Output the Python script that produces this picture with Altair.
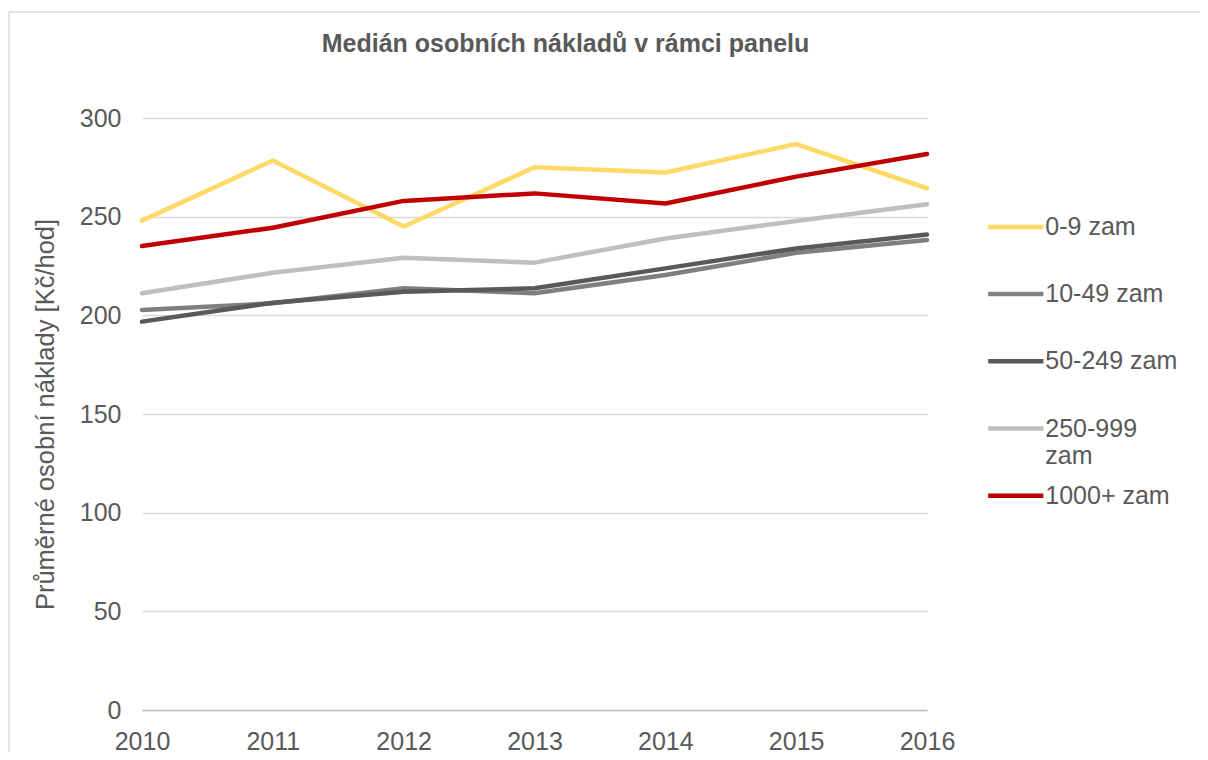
import altair as alt
import pandas as pd

years = [2010, 2011, 2012, 2013, 2014, 2015, 2016]
series = ["0-9 zam", "10-49 zam", "50-249 zam", "250-999 zam", "1000+ zam"]
v_0_9 = [248.0, 278.5, 245.0, 275.0, 272.4, 286.8, 264.4]
v_10_49 = [202.7, 206.1, 213.7, 211.2, 220.4, 231.7, 238.2]
v_50_249 = [196.8, 206.4, 212.0, 213.7, 223.8, 233.9, 241.0]
v_250_999 = [211.2, 221.6, 229.2, 226.7, 238.9, 247.8, 256.3]
v_1000 = [235.1, 244.4, 258.0, 261.8, 256.7, 270.3, 281.8]
colors = ["#FFD966", "#7F7F7F", "#595959", "#BFBFBF", "#C00000"]

values = [v_0_9, v_10_49, v_50_249, v_250_999, v_1000]
rows = []
for s, vals in zip(series, values):
    for y, v in zip(years, vals):
        rows.append({"rok": y, "skupina": s, "hodnota": v})
df = pd.DataFrame(rows)

FONT = "Liberation Sans"
TXT = "#595959"

lines = alt.Chart(df).mark_line(strokeWidth=4.5, strokeJoin="round", strokeCap="round").encode(
    x=alt.X("rok:O", title=None, scale=alt.Scale(type="point", padding=0),
            axis=alt.Axis(labelAngle=0, labelFontSize=25, labelColor=TXT, labelFont=FONT,
                          labelPadding=19, ticks=False, domain=True, domainColor="#BFBFBF",
                          domainWidth=1.5, grid=False)),
    y=alt.Y("hodnota:Q", title="Průměrné osobní náklady [Kč/hod]",
            scale=alt.Scale(domain=[0, 300], nice=False),
            axis=alt.Axis(values=[0, 50, 100, 150, 200, 250, 300], labelFontSize=25,
                          labelColor=TXT, labelFont=FONT, labelPadding=21, ticks=False,
                          domain=False, gridColor="#D9D9D9", gridWidth=1.5,
                          titleFontSize=25.5, titleFont=FONT, titleColor=TXT,
                          titleFontWeight="normal", titleX=-97, titleY=296,
                          titleAngle=-90, titleAlign="center", titleBaseline="middle")),
    color=alt.Color("skupina:N", sort=series,
                    scale=alt.Scale(domain=series, range=colors),
                    legend=alt.Legend(title=None, orient="none", legendX=848.3, legendY=83.4,
                                      symbolType="M-1.2,0H1.2", symbolSize=2116,
                                      symbolStrokeWidth=4.5, labelFontSize=25,
                                      labelFont=FONT, labelColor=TXT, labelOffset=4,
                                      rowPadding=1.2, gridAlign="all",
                                      padding=0, labelLimit=300,
                                      labelExpr="datum.label == '250-999 zam' ? ['250-999', 'zam'] : datum.label")),
    order=alt.Order("skupina_idx:Q"),
).transform_calculate(
    skupina_idx="indexof(['0-9 zam','10-49 zam','50-249 zam','250-999 zam','1000+ zam'], datum.skupina)"
)

frame_df = pd.DataFrame({"a": [0]})
border_top = alt.Chart(frame_df).mark_rule(stroke="#D9D9D9", strokeWidth=1.5).encode(
    x=alt.value(-133), x2=alt.value(1200), y=alt.value(-106)
)
border_left = alt.Chart(frame_df).mark_rule(stroke="#D9D9D9", strokeWidth=1.5).encode(
    x=alt.value(-133), y=alt.value(-106), y2=alt.value(800)
)

chart = alt.layer(border_top, border_left, lines).properties(
    width=785, height=592,
    title=alt.TitleParams("Medián osobních nákladů v rámci panelu", fontSize=25,
                          font=FONT, fontWeight="bold", color=TXT, anchor="middle",
                          frame="group", dx=31, offset=-45.75),
    padding={"left": 134, "top": 110, "right": 273, "bottom": 42},
    autosize=alt.AutoSizeParams(type="none"),
).configure_view(stroke=None)

chart.save("out.html", embed_options={"renderer": "svg", "actions": False})
